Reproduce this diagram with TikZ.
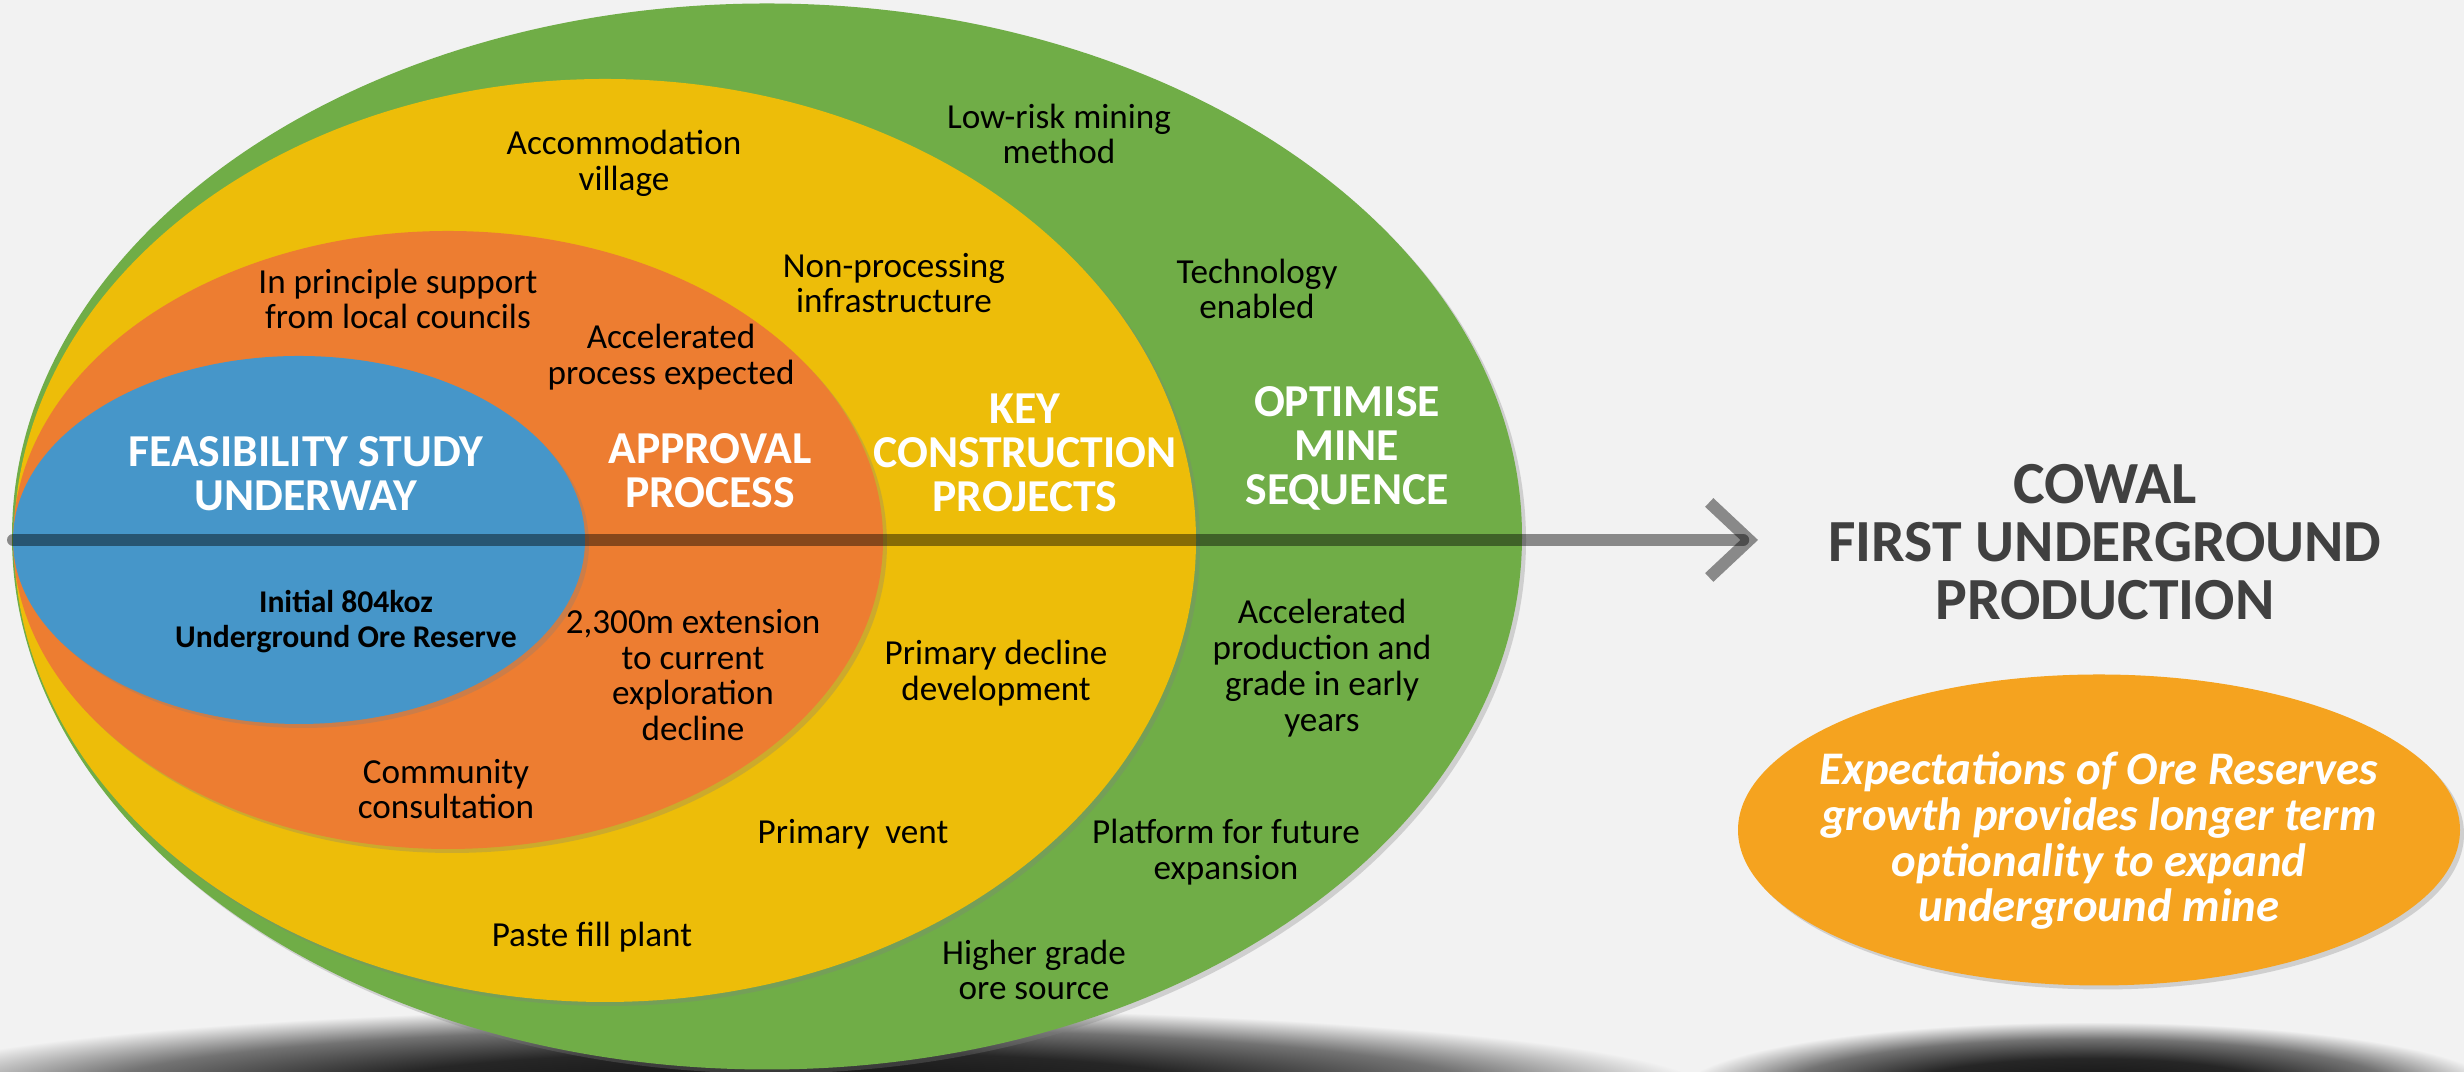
\documentclass[tikz,border=0pt]{standalone}
\usepackage{fontspec}
\setmainfont{Carlito}
\usepackage{xcolor}
\usepackage{tikz}
\usetikzlibrary{arrows.meta, positioning, shapes.geometric, shadows}

\definecolor{bggray}{HTML}{F2F2F2}
\definecolor{ringgreen}{HTML}{70AD47}
\definecolor{ringyellow}{HTML}{EDBD09}
\definecolor{ringorange}{HTML}{ED7D31}
\definecolor{ringblue}{HTML}{4696C9}
\definecolor{bubbleorange}{HTML}{F5A31F}
\definecolor{titlegray}{HTML}{404040}

\pgfdeclareradialshading{floorshadow}{\pgfpoint{0bp}{0bp}}{color(0bp)=(black!95); color(12bp)=(black!85); color(19bp)=(black!55); color(25bp)=(bggray); color(50bp)=(bggray)}

\begin{document}
\begin{tikzpicture}[>=Stealth]
    \tikzset{ring/.style = {ellipse, inner sep=0pt, drop shadow={shadow xshift=0.04cm, shadow yshift=-0.04cm, opacity=0.3}}}
    \tikzset{stage/.style = {text=white, align=center, font=\fontsize{13}{12.5}\selectfont\bfseries}}
    \tikzset{item/.style = {align=center, font=\fontsize{10}{10.2}\selectfont}}
    \tikzset{axis/.style = {draw=black, opacity=0.43, line width=0.12cm, line cap=round, -{Straight Barb[length=0.4cm, width=0.75cm]}}}

    % Background and floor shadows
    \useasboundingbox (0,0) rectangle (24.64,10.72);
    \fill[bggray] (0,0) rectangle (24.64,10.72);
    \shade[shading=floorshadow] (7.9,-0.2) ellipse [x radius=9.2, y radius=0.85];
    \shade[shading=floorshadow] (20.9,-0.2) ellipse [x radius=4.1, y radius=0.7];

    % Rings
    \node [ring, fill=ringgreen, minimum width=15.10cm, minimum height=10.66cm] (optimise) at (7.67,5.355) {};
    \node [ring, fill=ringyellow, minimum width=11.82cm, minimum height=9.23cm] (construction) at (6.05,5.315) {};
    \node [ring, fill=ringorange, minimum width=8.70cm, minimum height=6.18cm] (approval) at (4.48,5.32) {};
    \node [ring, fill=ringblue, minimum width=5.72cm, minimum height=3.68cm] (feasibility) at (2.99,5.32) {};

    % Stage names
    \node [stage] (feasname) at (3.06,5.98) {FEASIBILITY STUDY\\UNDERWAY};
    \node [stage] (approvalname) at (7.10,6.01) {APPROVAL\\PROCESS};
    \node [stage] (keyname) at (10.25,6.19) {KEY\\CONSTRUCTION\\PROJECTS};
    \node [stage] (optname) at (13.47,6.24) {OPTIMISE\\MINE\\SEQUENCE};

    % Ring contents
    \node [item, font=\fontsize{9}{10}\selectfont\bfseries] (reserve) at (3.46,4.50) {Initial 804koz\\Underground Ore Reserve};
    \node [item] (councils) at (3.98,7.73) {In principle support\\from local councils};
    \node [item] (accprocess) at (6.71,7.15) {Accelerated\\process expected};
    \node [item] (extension) at (6.93,3.97) {2,300m extension\\to current\\exploration\\decline};
    \node [item] (community) at (4.46,2.83) {Community\\consultation};
    \node [item] (village) at (6.24,9.09) {Accommodation\\village};
    \node [item] (nonproc) at (8.94,7.89) {Non-processing\\infrastructure};
    \node [item] (declinedev) at (9.96,3.99) {Primary decline\\development};
    \node [item] (vent) at (8.53,2.38) {Primary\ \ vent};
    \node [item] (paste) at (5.92,1.35) {Paste fill plant};
    \node [item] (lowrisk) at (10.59,9.38) {Low-risk mining\\method};
    \node [item] (technology) at (12.57,7.83) {Technology\\enabled};
    \node [item] (accprod) at (13.22,4.04) {Accelerated\\production and\\grade in early\\years};
    \node [item] (platform) at (12.26,2.20) {Platform for future\\expansion};
    \node [item] (highergrade) at (10.34,1.02) {Higher grade\\ore source};

    % Outcome
    \node [font=\fontsize{17}{16.5}\selectfont\bfseries, text=titlegray, align=center] (cowal) at (21.05,5.30) {COWAL\\FIRST UNDERGROUND\\PRODUCTION};
    \node [ring, fill=bubbleorange, minimum width=7.22cm, minimum height=3.11cm] (bubble) at (20.99,2.42) {};
    \node [text=white, align=center, font=\fontsize{13.3}{13}\selectfont\bfseries\itshape] (expect) at (20.99,2.31) {Expectations of Ore Reserves\\growth provides longer term\\optionality to expand\\underground mine};

    % Time line
    \coordinate (axisstart) at (0.13,5.32);
    \coordinate (axisend) at (17.58,5.32);
    \draw [axis] (axisstart) -- (axisend);
\end{tikzpicture}
\end{document}
